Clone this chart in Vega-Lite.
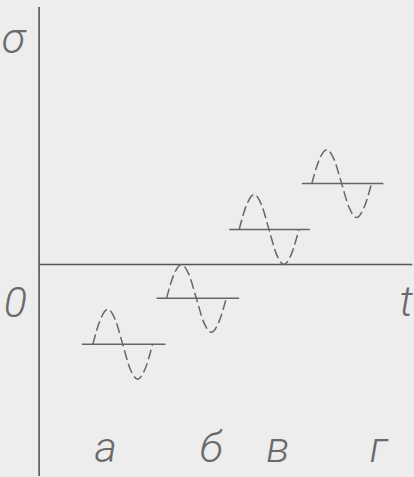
{
  "$schema": "https://vega.github.io/schema/vega-lite/v6.json",
  "width": 414,
  "height": 477,
  "padding": 0,
  "autosize": {"type": "fit", "contains": "padding"},
  "background": "#ededed",
  "config": {"view": {"stroke": null}},
  "datasets": {
    "axes": [
      {"t1": 0, "s1": 0, "t2": 37.5, "s2": 0},
      {"t1": 0, "s1": 25.8, "t2": 0, "s2": -21.2}
    ],
    "means": [
      {"wave": "а", "t1": 4.3, "t2": 12.7, "s": -8.0},
      {"wave": "б", "t1": 11.8, "t2": 20.1, "s": -3.4},
      {"wave": "в", "t1": 19.1, "t2": 27.2, "s": 3.5},
      {"wave": "г", "t1": 26.4, "t2": 34.6, "s": 8.1}
    ],
    "waves": [
      {"wave": "а", "t": 5.4, "s": -8.0},
      {"wave": "а", "t": 6.15, "s": -5.53},
      {"wave": "а", "t": 6.9, "s": -4.5},
      {"wave": "а", "t": 7.65, "s": -5.53},
      {"wave": "а", "t": 8.4, "s": -8.0},
      {"wave": "а", "t": 9.15, "s": -10.47},
      {"wave": "а", "t": 9.9, "s": -11.5},
      {"wave": "а", "t": 10.65, "s": -10.47},
      {"wave": "а", "t": 11.4, "s": -8.0},
      {"wave": "б", "t": 12.8, "s": -3.4},
      {"wave": "б", "t": 13.55, "s": -1.0},
      {"wave": "б", "t": 14.3, "s": 0.0},
      {"wave": "б", "t": 15.05, "s": -1.0},
      {"wave": "б", "t": 15.8, "s": -3.4},
      {"wave": "б", "t": 16.55, "s": -5.8},
      {"wave": "б", "t": 17.3, "s": -6.8},
      {"wave": "б", "t": 18.05, "s": -5.8},
      {"wave": "б", "t": 18.8, "s": -3.4},
      {"wave": "в", "t": 20.1, "s": 3.5},
      {"wave": "в", "t": 20.85, "s": 5.97},
      {"wave": "в", "t": 21.6, "s": 7.0},
      {"wave": "в", "t": 22.35, "s": 5.97},
      {"wave": "в", "t": 23.1, "s": 3.5},
      {"wave": "в", "t": 23.85, "s": 1.03},
      {"wave": "в", "t": 24.6, "s": 0.0},
      {"wave": "в", "t": 25.35, "s": 1.03},
      {"wave": "в", "t": 26.1, "s": 3.5},
      {"wave": "г", "t": 27.4, "s": 8.1},
      {"wave": "г", "t": 28.15, "s": 10.5},
      {"wave": "г", "t": 28.9, "s": 11.5},
      {"wave": "г", "t": 29.65, "s": 10.5},
      {"wave": "г", "t": 30.4, "s": 8.1},
      {"wave": "г", "t": 31.15, "s": 5.7},
      {"wave": "г", "t": 31.9, "s": 4.7},
      {"wave": "г", "t": 32.65, "s": 5.7},
      {"wave": "г", "t": 33.4, "s": 8.1}
    ],
    "labels": [
      {"label": "σ", "t": -2.6, "s": 21.2},
      {"label": "0", "t": -2.4, "s": -5.3},
      {"label": "t", "t": 36.9, "s": -5.2},
      {"label": "а", "t": 6.7, "s": -19.8},
      {"label": "б", "t": 17.3, "s": -19.8},
      {"label": "в", "t": 24.0, "s": -19.8},
      {"label": "г", "t": 34.1, "s": -19.8}
    ]
  },
  "layer": [
    {
      "data": {"name": "axes"},
      "mark": {"type": "rule", "color": "#555555", "strokeWidth": 1.6},
      "encoding": {
        "x": {"field": "t1", "type": "quantitative", "scale": {"domain": [-3.93, 37.47], "nice": false, "zero": false}, "axis": null},
        "y": {"field": "s1", "type": "quantitative", "scale": {"domain": [-21.2, 26.5], "nice": false, "zero": false}, "axis": null},
        "x2": {"field": "t2"},
        "y2": {"field": "s2"}
      }
    },
    {
      "data": {"name": "means"},
      "mark": {"type": "rule", "color": "#666666", "strokeWidth": 1.5},
      "encoding": {
        "x": {"field": "t1", "type": "quantitative"},
        "x2": {"field": "t2"},
        "y": {"field": "s", "type": "quantitative"}
      }
    },
    {
      "data": {"name": "waves"},
      "mark": {"type": "line", "color": "#666666", "strokeWidth": 1.5, "strokeDash": [10, 4], "interpolate": "monotone"},
      "encoding": {
        "x": {"field": "t", "type": "quantitative"},
        "y": {"field": "s", "type": "quantitative"},
        "detail": {"field": "wave", "type": "nominal"}
      }
    },
    {
      "data": {"name": "labels"},
      "mark": {"type": "text", "font": "Roboto", "fontStyle": "italic", "fontWeight": 300, "fontSize": 43, "color": "#6a6a6a", "align": "center", "baseline": "alphabetic"},
      "encoding": {
        "x": {"field": "t", "type": "quantitative"},
        "y": {"field": "s", "type": "quantitative"},
        "text": {"field": "label", "type": "nominal"}
      }
    }
  ]
}
